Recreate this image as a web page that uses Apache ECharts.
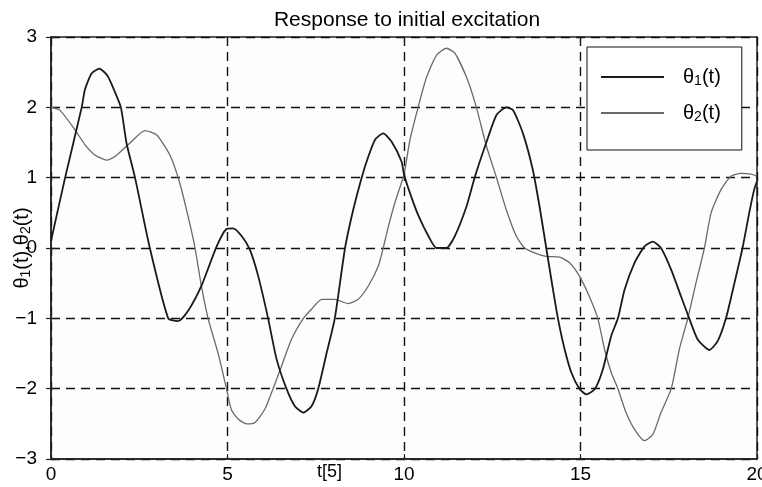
<!DOCTYPE html>
<html style="height: 100%">
<head>
	<meta charset="utf-8">
</head>
<body style="height: 100%; margin: 0; background: #fff">
<div id="container" style="width: 762px; height: 487px"></div>
<script type="text/javascript" src="https://cdn.jsdelivr.net/npm/echarts@6/dist/echarts.min.js"></script>
<script type="text/javascript">
    // values: [t, value]
    var theta1 = [
        [0, 0.1], [0.4, 1.0], [0.87, 2.0], [0.96, 2.25], [1.15, 2.48], [1.37, 2.55], [1.6, 2.45],
        [1.81, 2.22], [1.98, 2.0], [2.14, 1.49], [2.38, 1.0], [2.8, 0], [3.32, -1.0], [3.6, -1.04],
        [3.9, -0.88], [4.26, -0.54], [4.69, 0.02], [4.97, 0.27], [5.16, 0.28], [5.4, 0.17],
        [5.63, -0.02], [5.87, -0.4], [6.15, -1.0], [6.39, -1.58], [6.67, -2.0], [6.91, -2.25],
        [7.15, -2.34], [7.38, -2.25], [7.57, -2.0], [7.81, -1.49], [8.04, -1.0], [8.33, 0],
        [8.56, 0.54], [8.8, 1.0], [8.99, 1.3], [9.18, 1.54], [9.41, 1.63], [9.65, 1.51],
        [9.93, 1.23], [10.0, 1.05], [10.17, 0.78], [10.4, 0.47], [10.69, 0.17], [10.92, 0],
        [11.2, 0], [11.44, 0.17], [11.77, 0.59], [12.0, 1.0], [12.34, 1.51], [12.62, 1.89],
        [12.9, 2.0], [13.09, 1.96], [13.37, 1.63], [13.65, 1.11], [13.84, 0.59], [14.03, 0],
        [14.22, -0.59], [14.36, -1.0], [14.55, -1.44], [14.74, -1.77], [14.97, -2.0],
        [15.16, -2.08], [15.4, -2.01], [15.63, -1.73], [15.87, -1.25], [16.06, -1.0],
        [16.25, -0.59], [16.53, -0.21], [16.81, 0.02], [17.05, 0.09], [17.28, 0], [17.57, -0.31],
        [17.85, -0.69], [18.08, -1.0], [18.32, -1.3], [18.65, -1.45], [18.89, -1.32],
        [19.12, -1.0], [19.36, -0.5], [19.59, 0], [19.78, 0.5], [19.92, 0.83], [20, 0.95]
    ];
    var theta2 = [
        [0, 2.0], [0.25, 1.96], [0.68, 1.68], [0.96, 1.47], [1.25, 1.32], [1.58, 1.25],
        [1.86, 1.32], [2.19, 1.47], [2.66, 1.67], [2.99, 1.61], [3.37, 1.32], [3.65, 0.92],
        [3.93, 0.35], [4.08, 0], [4.26, -0.54], [4.45, -1.0], [4.74, -1.51], [4.97, -2.0],
        [5.11, -2.3], [5.3, -2.43], [5.54, -2.5], [5.78, -2.48], [6.06, -2.29], [6.29, -2.0],
        [6.53, -1.68], [6.81, -1.3], [7.15, -1.0], [7.38, -0.87], [7.67, -0.73], [8.04, -0.73],
        [8.42, -0.79], [8.7, -0.73], [8.99, -0.54], [9.27, -0.26], [9.41, 0], [9.56, 0.31],
        [9.74, 0.64], [10.0, 1.05], [10.17, 1.54], [10.4, 2.0], [10.64, 2.43], [10.92, 2.74],
        [11.2, 2.84], [11.44, 2.77], [11.77, 2.43], [12.05, 2.0], [12.34, 1.44], [12.62, 1.0],
        [12.9, 0.54], [13.18, 0.17], [13.42, 0], [13.75, -0.08], [14.03, -0.12], [14.41, -0.13],
        [14.69, -0.21], [14.97, -0.4], [15.25, -0.69], [15.49, -1.0], [15.68, -1.44],
        [15.87, -1.77], [16.06, -2.0], [16.29, -2.34], [16.53, -2.58], [16.81, -2.74],
        [17.05, -2.65], [17.28, -2.34], [17.57, -2.0], [17.8, -1.44], [18.04, -1.0],
        [18.27, -0.5], [18.51, 0], [18.7, 0.5], [18.98, 0.83], [19.26, 1.02], [19.55, 1.06],
        [19.83, 1.05], [20, 1.02]
    ];
    var seriesNames = ['theta1', 'theta2'];
    var xTicks = [0, 5, 10, 15, 20];
    var yTicks = [-3, -2, -1, 0, 1, 2, 3];

    var font = 'Liberation Sans, Arial, sans-serif';
    var subRich = {
        a: { fontSize: 20, fontFamily: font, color: '#000', lineHeight: 22 },
        s: { fontSize: 14, fontFamily: font, color: '#000', lineHeight: 12, verticalAlign: 'bottom' }
    };

    var dom = document.getElementById("container");
    var myChart = echarts.init(dom, null, { renderer: 'canvas' });

    var dashed = { show: true, lineStyle: { color: '#111', width: 1.4, type: [9, 6] } };
    var innerTicks = { show: true, inside: true, length: 5, lineStyle: { color: '#222', width: 1.2 } };

    var option = {
        backgroundColor: '#fff',
        animation: false,
        title: {
            text: 'Response to initial excitation',
            left: 402,
            textAlign: 'center',
            top: 5,
            textStyle: { fontSize: 21, fontWeight: 'normal', color: '#000', fontFamily: font }
        },
        legend: {
            orient: 'vertical',
            left: 587,
            top: 47,
            padding: [20, 21, 26, 13],
            itemWidth: 63,
            itemHeight: 16,
            itemGap: 15,
            backgroundColor: '#fff',
            borderColor: '#111',
            borderWidth: 1,
            borderRadius: 0,
            itemStyle: { opacity: 0 },
            data: seriesNames,
            formatter: function (name) {
                return name === 'theta1' ? '{a|θ}{s|1}{a|(t)}' : '{a|θ}{s|2}{a|(t)}';
            },
            textStyle: { padding: [0, 0, 0, 14], rich: subRich }
        },
        grid: {
            left: 51,
            right: 5,
            top: 37,
            bottom: 28,
            outerBoundsMode: 'none',
            containLabel: false,
            show: true,
            borderColor: '#222',
            borderWidth: 1.5,
            backgroundColor: '#fdfdfd'
        },
        xAxis: [{
            type: 'value',
            min: 0,
            max: 20,
            interval: 5,
            axisLine: { show: true, onZero: false, lineStyle: { color: '#222', width: 1.5 } },
            axisTick: innerTicks,
            axisLabel: {
                margin: 6, fontSize: 19, color: '#000', fontFamily: font,
                formatter: function (v) { return xTicks.indexOf(v) >= 0 ? String(v) : ''; }
            },
            splitLine: dashed
        }, {
            type: 'value',
            position: 'top',
            min: 0,
            max: 20,
            interval: 5,
            axisLine: { show: false },
            axisTick: innerTicks,
            axisLabel: { show: false },
            splitLine: { show: false }
        }],
        yAxis: [{
            type: 'value',
            min: -3,
            max: 3,
            interval: 1,
            name: '{a|θ}{s|1}{a|(t),θ}{s|2}{a|(t)}',
            nameLocation: 'middle',
            nameGap: 18,
            nameMoveOverlap: false,
            nameRotate: 90,
            nameTextStyle: { rich: subRich },
            axisLine: { show: true, onZero: false, lineStyle: { color: '#222', width: 1.5 } },
            axisTick: innerTicks,
            axisLabel: {
                margin: 14, fontSize: 19, color: '#000', fontFamily: font,
                formatter: function (v) {
                    return yTicks.indexOf(v) >= 0 ? String(v).replace('-', '\u2212') : '';
                }
            },
            splitLine: dashed
        }, {
            type: 'value',
            position: 'right',
            min: -3,
            max: 3,
            interval: 1,
            axisLine: { show: false },
            axisTick: innerTicks,
            axisLabel: { show: false },
            splitLine: { show: false }
        }],
        graphic: [{
            type: 'text',
            left: 317,
            top: 463,
            style: { text: 't[5]', fontSize: 18, fontFamily: font, fill: '#000' }
        }],
        series: [{
            name: 'theta1',
            type: 'line',
            data: theta1,
            showSymbol: false,
            symbol: 'none',
            smooth: 0.2,
            lineStyle: { color: '#1a1a1a', width: 1.8 },
            itemStyle: { color: '#1a1a1a' },
            z: 3
        }, {
            name: 'theta2',
            type: 'line',
            data: theta2,
            showSymbol: false,
            symbol: 'none',
            smooth: 0.2,
            lineStyle: { color: '#6a6a6a', width: 1.3 },
            itemStyle: { color: '#6a6a6a' },
            z: 2
        }]
    };

    if (option && typeof option === "object") {
        myChart.setOption(option, true);
    }
</script>
</body>
</html>
